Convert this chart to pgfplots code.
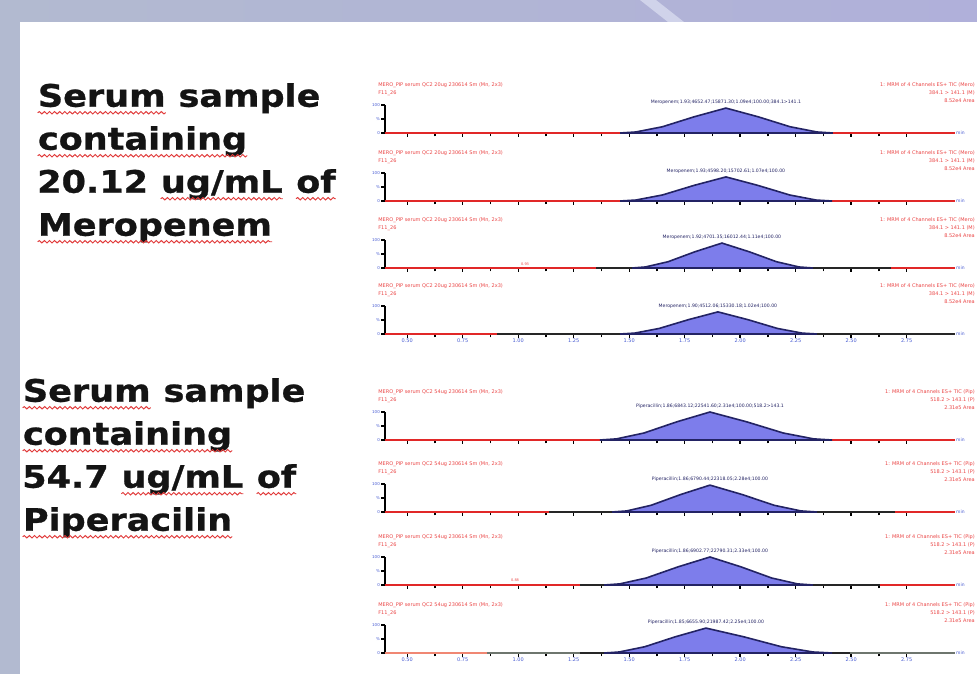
\documentclass[border=0pt]{standalone}
\usepackage{pgfplots}
\pgfplotsset{compat=1.18}
\usepackage{fontspec}
\usetikzlibrary{decorations.pathmorphing}
\setmainfont{DejaVu Sans}
\newfontfamily\vfont[FakeBold=0.8]{DejaVu Sans Bold}
\definecolor{bgL}{RGB}{178,186,208}
\definecolor{bgR}{RGB}{176,176,218}
\definecolor{stripe}{RGB}{208,211,234}
\definecolor{tracered}{RGB}{225,40,40}
\definecolor{salmon}{RGB}{240,135,115}
\definecolor{greytr}{RGB}{110,118,110}
\definecolor{peakfill}{RGB}{125,125,235}
\definecolor{navy}{RGB}{35,35,100}
\definecolor{tickblue}{RGB}{70,90,210}
\definecolor{txtred}{RGB}{235,70,70}
\definecolor{sqred}{RGB}{225,60,60}
\newcommand\sq[1]{\tikz[baseline=(w.base)]{\node[inner sep=0pt, anchor=base](w) at (0,0){#1};
  \draw[sqred, line width=0.9pt, decorate, decoration={snake, amplitude=1.2pt, segment length=4.5pt}]
   ([yshift=-6pt]w.base west) -- ([yshift=-6pt]w.base east);}}
\pgfplotsset{
  chrom/.style={width=570pt, height=28pt, scale only axis, anchor=south west,
    xmin=0.4, xmax=2.968, ymin=0, ymax=100, clip=false,
    axis x line=bottom, axis y line=left,
    x axis line style={-, black, line width=1pt},
    y axis line style={-, black, line width=1.6pt},
    xtick={0.5,0.75,...,2.75}, minor x tick num=1,
    tick align=outside, major tick length=4pt, minor tick length=3.5pt,
    every tick/.style={black, line width=1.3pt},
    ytick={0,50,100}, yticklabels={0,\%,100},
    yticklabel style={font=\fontsize{4}{4}\selectfont, text=tickblue, inner sep=1pt},
    xticklabel style={font=\fontsize{5}{5}\selectfont, text=tickblue, inner sep=1pt,
      /pgf/number format/.cd, fixed, fixed zerofill, precision=2, assume math mode=true},
  },
  trace/.style={black!85, line width=2.7pt},
  redtr/.style={tracered, line width=2.7pt},
  peak/.style={fill=peakfill, draw=navy, line width=1.6pt},
}
\tikzset{
  lt/.style={font=\fontsize{5}{5}\selectfont, text=txtred, anchor=west, inner sep=0pt},
  rt/.style={font=\fontsize{5}{5}\selectfont, text=txtred, anchor=east, inner sep=0pt},
  pk/.style={font=\fontsize{4.6}{5}\selectfont, text=navy, anchor=south, inner sep=0pt, yshift=3pt},
  mn/.style={font=\fontsize{4.5}{5}\selectfont, text=tickblue, anchor=west, inner sep=1pt},
}
\newcommand\mtexts{%
  \node[lt] at (rel axis cs:-0.012,1.71) {MERO\_PIP serum QC2 20ug 230614 Sm (Mn, 2x3)};
  \node[lt] at (rel axis cs:-0.012,1.43) {F11\_26};
  \node[rt] at (rel axis cs:1.035,1.71) {1: MRM of 4 Channels ES+ TIC (Mero)};
  \node[rt] at (rel axis cs:1.035,1.43) {384.1 > 141.1 (M)};
  \node[rt] at (rel axis cs:1.035,1.14) {8.52e4 Area};
  \node[mn] at (rel axis cs:1,0) {min};}
\newcommand\ptexts{%
  \node[lt] at (rel axis cs:-0.012,1.71) {MERO\_PIP serum QC2 54ug 230614 Sm (Mn, 2x3)};
  \node[lt] at (rel axis cs:-0.012,1.43) {F11\_26};
  \node[rt] at (rel axis cs:1.035,1.71) {1: MRM of 4 Channels ES+ TIC (Pip)};
  \node[rt] at (rel axis cs:1.035,1.43) {518.2 > 143.1 (P)};
  \node[rt] at (rel axis cs:1.035,1.14) {2.31e5 Area};
  \node[mn] at (rel axis cs:1,0) {min};}
\begin{document}
\begin{tikzpicture}
\useasboundingbox (0pt,0pt) rectangle (977pt,674pt);
\clip (0pt,0pt) rectangle (977pt,674pt);
\begin{scope}[x=1pt,y=1pt]
\shade[left color=bgL, right color=bgR] (0,0) rectangle (977,674);
\fill[stripe] (640,674) -- (656,674) -- (684,652) -- (668,652) -- cycle;
\fill[white] (20,0) rectangle (977,652);
% left texts
\node[anchor=north west, inner sep=0pt, align=left, xscale=1.13,
  font=\vfont\fontsize{31}{43}\selectfont, text=black!92] at (37,591)
  {\sq{Serum} sample\\ \sq{containing}\\ 20.12 \sq{ug/mL} \sq{of}\\ \sq{Meropenem}};
\node[anchor=north west, inner sep=0pt, align=left, xscale=1.13,
  font=\vfont\fontsize{31}{43}\selectfont, text=black!92] at (22,296)
  {\sq{Serum} sample\\ \sq{containing}\\ 54.7 \sq{ug/mL} \sq{of}\\ \sq{Piperacilin}};
\end{scope}
% ---- Panel 1
\begin{axis}[chrom, at={(385pt,541pt)}, xticklabels={}]
\addplot[trace] coordinates {(0.4,0) (2.968,0)};
\addplot[redtr] coordinates {(0.4,0) (1.459,0)};
\addplot[redtr] coordinates {(2.418,0) (2.968,0)};
\addplot[peak] coordinates {(1.459,0) (1.530,3.6) (1.650,22.3) (1.793,57.9) (1.936,89) (2.081,57.9) (2.225,22.3) (2.346,3.6) (2.418,0)} \closedcycle;
\node[pk] at (axis cs:1.936,89) {Meropenem;1.93;4652.47;15871.30;1.09e4;100.00;384.1>141.1};
\mtexts
\end{axis}
% ---- Panel 2
\begin{axis}[chrom, at={(385pt,473pt)}, xticklabels={}]
\addplot[trace] coordinates {(0.4,0) (2.968,0)};
\addplot[redtr] coordinates {(0.4,0) (1.459,0)};
\addplot[redtr] coordinates {(2.414,0) (2.968,0)};
\addplot[peak] coordinates {(1.459,0) (1.530,3.4) (1.650,21.5) (1.793,55.9) (1.936,86) (2.079,55.9) (2.223,21.5) (2.342,3.4) (2.414,0)} \closedcycle;
\node[pk] at (axis cs:1.936,86) {Meropenem;1.93;4598.20;15702.61;1.07e4;100.00};
\mtexts
\end{axis}
% ---- Panel 3
\begin{axis}[chrom, at={(385pt,406pt)}, xticklabels={}]
\addplot[trace] coordinates {(0.4,0) (2.968,0)};
\addplot[redtr] coordinates {(0.4,0) (1.350,0)};
\addplot[redtr] coordinates {(2.679,0) (2.968,0)};
\addplot[peak] coordinates {(1.513,0) (1.573,3.6) (1.675,22.3) (1.796,57.9) (1.918,89) (2.041,57.9) (2.164,22.3) (2.266,3.6) (2.328,0)} \closedcycle;
\node[pk] at (axis cs:1.918,89) {Meropenem;1.92;4701.35;16012.44;1.11e4;100.00};
\node[font=\fontsize{3.5}{4}\selectfont, text=txtred, anchor=south, inner sep=0pt] at (axis cs:1.031,9) {0.93};
\mtexts
\end{axis}
% ---- Panel 4
\begin{axis}[chrom, at={(385pt,340pt)}]
\addplot[trace] coordinates {(0.4,0) (2.968,0)};
\addplot[redtr] coordinates {(0.4,0) (0.905,0)};
\addplot[peak] coordinates {(1.459,0) (1.525,3.2) (1.635,19.8) (1.768,51.4) (1.900,79) (2.034,51.4) (2.168,19.8) (2.279,3.2) (2.346,0)} \closedcycle;
\node[pk] at (axis cs:1.900,79) {Meropenem;1.90;4512.06;15330.18;1.02e4;100.00};
\mtexts
\end{axis}
% ---- Panel 5
\begin{axis}[chrom, at={(385pt,234pt)}, xticklabels={}]
\addplot[trace] coordinates {(0.4,0) (2.968,0)};
\addplot[redtr] coordinates {(0.4,0) (1.368,0)};
\addplot[redtr] coordinates {(2.414,0) (2.968,0)};
\addplot[peak] coordinates {(1.368,0) (1.443,4) (1.567,25) (1.715,65) (1.864,100) (2.029,65) (2.194,25) (2.331,4) (2.414,0)} \closedcycle;
\node[pk] at (axis cs:1.864,100) {Piperacillin;1.86;6843.12;22541.60;2.31e4;100.00;518.2>143.1};
\ptexts
\end{axis}
% ---- Panel 6
\begin{axis}[chrom, at={(385pt,162pt)}, xticklabels={}]
\addplot[trace] coordinates {(0.4,0) (2.968,0)};
\addplot[redtr] coordinates {(0.4,0) (1.139,0)};
\addplot[redtr] coordinates {(2.697,0) (2.968,0)};
\addplot[peak] coordinates {(1.423,0) (1.489,3.8) (1.599,24) (1.732,62.4) (1.864,96) (2.009,62.4) (2.153,24) (2.274,3.8) (2.346,0)} \closedcycle;
\node[pk] at (axis cs:1.864,96) {Piperacillin;1.86;6790.44;22318.05;2.28e4;100.00};
\ptexts
\end{axis}
% ---- Panel 7
\begin{axis}[chrom, at={(385pt,89pt)}, xticklabels={}]
\addplot[trace] coordinates {(0.4,0) (2.968,0)};
\addplot[redtr] coordinates {(0.4,0) (1.278,0)};
\addplot[redtr] coordinates {(2.630,0) (2.968,0)};
\addplot[peak] coordinates {(1.387,0) (1.458,4) (1.577,25) (1.721,65) (1.864,100) (2.003,65) (2.142,25) (2.258,4) (2.328,0)} \closedcycle;
\node[pk] at (axis cs:1.864,100) {Piperacillin;1.86;6902.77;22790.31;2.33e4;100.00};
\node[font=\fontsize{3.5}{4}\selectfont, text=txtred, anchor=south, inner sep=0pt] at (axis cs:0.986,12) {0.88};
\ptexts
\end{axis}
% ---- Panel 8
\begin{axis}[chrom, at={(385pt,21pt)}]
\addplot[greytr, line width=2.7pt] coordinates {(0.4,0) (2.968,0)};
\addplot[salmon, line width=2.7pt] coordinates {(0.4,0) (0.859,0)};
\addplot[trace] coordinates {(1.278,0) (2.495,0)};
\addplot[peak] coordinates {(1.387,0) (1.455,3.6) (1.570,22.3) (1.708,57.9) (1.846,89) (2.016,57.9) (2.186,22.3) (2.328,3.6) (2.414,0)} \closedcycle;
\node[pk] at (axis cs:1.846,89) {Piperacillin;1.85;6655.90;21987.42;2.25e4;100.00};
\ptexts
\end{axis}
\end{tikzpicture}
\end{document}
